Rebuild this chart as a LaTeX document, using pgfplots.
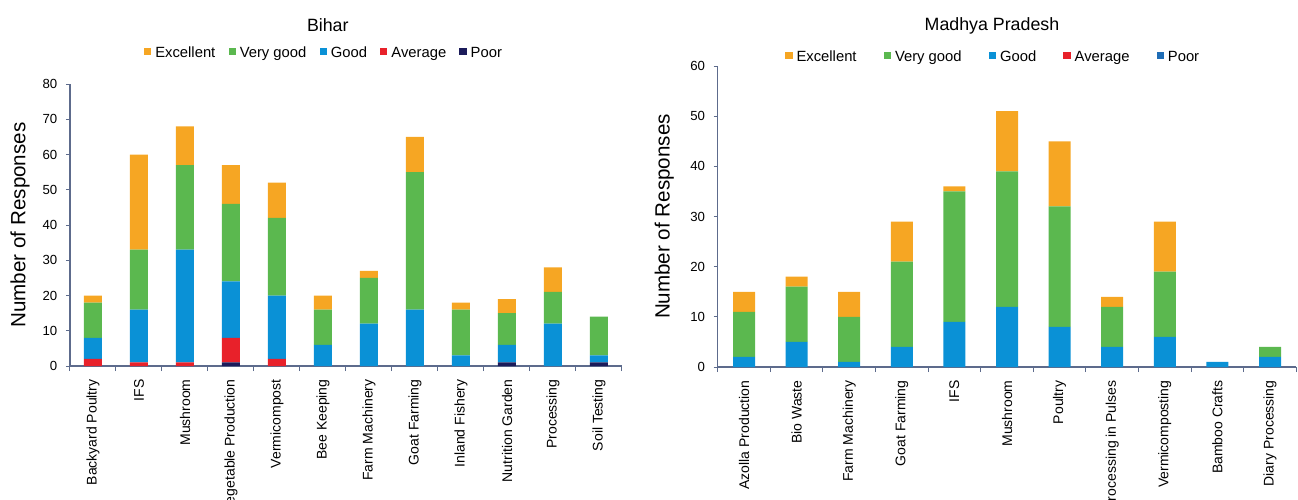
\documentclass[border=0pt]{standalone}
\usepackage{pgfplots}
\usepackage{pgfplotstable}
\pgfplotsset{compat=1.18}
\usepackage{fontspec}
\setmainfont{Liberation Sans}
\definecolor{cExc}{HTML}{F6A623}
\definecolor{cVG}{HTML}{5BB84F}
\definecolor{cGood}{HTML}{0A91D6}
\definecolor{cAvg}{HTML}{E8212A}
\definecolor{cPoor}{HTML}{1B1B5A}
\definecolor{cPoorMP}{HTML}{1F6DB6}
\definecolor{axcol}{HTML}{5D6B8C}

\pgfplotstableread{
x poor avg good vg exc
0 0 2 6 10 2
1 0 1 15 17 27
2 0 1 32 24 11
3 1 7 16 22 11
4 0 2 18 22 10
5 0 0 6 10 4
6 0 0 12 13 2
7 0 0 16 39 10
8 0 0 3 13 2
9 1 0 5 9 4
10 0 0 12 9 7
11 1 0 2 11 0
}\bihar

\pgfplotstableread{
x poor avg good vg exc
0 0 0 2 9 4
1 0 0 5 11 2
2 0 0 1 9 5
3 0 0 4 17 8
4 0 0 9 26 1
5 0 0 12 27 12
6 0 0 8 24 13
7 0 0 4 8 2
8 0 0 6 13 10
9 0 0 1 0 0
10 0 0 2 2 0
}\mp

\pgfplotsset{
  mystack/.style={
    ybar stacked, scale only axis,
    axis lines*=left,
    axis line style={color=axcol, line width=0.6pt},
    ymin=0,
    tick align=outside,
    major tick length=2pt,
    minor tick length=2.6pt,
    tick style={color=axcol, line width=0.5pt},
    major x tick style={draw=none},
    /pgf/number format/assume math mode=true,
    yticklabel style={font=\fontsize{6.6}{7}\selectfont, xshift=-0.8pt},
    xticklabel style={rotate=90, anchor=east, font=\fontsize{7}{8}\selectfont},
    xticklabel shift=1.2pt,
    reverse legend,
    legend columns=5,
    legend cell align=left,
    every axis plot post/.append style={draw=none,
      legend image code/.code={\fill[##1,draw=none] (0pt,-0.6pt) rectangle (3.6pt,3.0pt);}},
    ylabel style={font=\fontsize{10.3}{12}\selectfont, anchor=center},
    title style={font=\fontsize{8.9}{10}\selectfont, anchor=center},
  }
}

\begin{document}
\begin{tikzpicture}
\useasboundingbox (0,0) rectangle (649pt,249.5pt);

\begin{axis}[mystack,
  at={(35pt,66.5pt)}, anchor=south west,
  width=276pt, height=141pt,
  bar width=9pt,
  xmin=-0.5, xmax=11.5, ymax=80,
  ytick={0,10,...,80},
  xtick={0,...,11},
  minor xtick={-0.5,0.5,...,11.5},
  xticklabels={Backyard Poultry,IFS,Mushroom,Vegetable Production,Vermicompost,Bee Keeping,Farm Machinery,Goat Farming,Inland Fishery,Nutrition Garden,Processing,Soil Testing},
  ylabel={Number of Responses},
  ylabel style={at={(axis description cs:-0.0906,0.5)}},
  title={Bihar},
  title style={at={(axis description cs:0.467,1.1666)}},
  legend style={draw=none, fill=none, at={(0.462,1.108)}, anchor=center,
    font=\fontsize{7.4}{8}\selectfont,
    /tikz/every even column/.append style={column sep=4.6pt}},
]
\addplot[fill=cPoor] table[x=x,y=poor]{\bihar};
\addplot[fill=cAvg] table[x=x,y=avg]{\bihar};
\addplot[fill=cGood] table[x=x,y=good]{\bihar};
\addplot[fill=cVG] table[x=x,y=vg]{\bihar};
\addplot[fill=cExc] table[x=x,y=exc]{\bihar};
\legend{Poor,Average,Good,Very good,Excellent}
\end{axis}

\begin{axis}[mystack,
  at={(358.85pt,66pt)}, anchor=south west,
  width=289.3pt, height=150.5pt,
  bar width=11pt,
  xmin=-0.5, xmax=10.5, ymax=60,
  ytick={0,10,...,60},
  xtick={0,...,10},
  minor xtick={-0.5,0.5,...,10.5},
  xticklabels={Azolla Production,Bio Waste,Farm Machinery,Goat Farming,IFS,Mushroom,Poultry,Processing in Pulses,Vermicomposting,Bamboo Crafts,Diary Processing},
  ylabel={Number of Responses},
  ylabel style={at={(axis description cs:-0.0925,0.5)}},
  title={Madhya Pradesh},
  title style={at={(axis description cs:0.474,1.095)}},
  legend style={draw=none, fill=none, at={(0.478,1.027)}, anchor=center,
    font=\fontsize{7.4}{8}\selectfont,
    /tikz/every even column/.append style={column sep=11.6pt}},
]
\addplot[fill=cPoorMP] table[x=x,y=poor]{\mp};
\addplot[fill=cAvg] table[x=x,y=avg]{\mp};
\addplot[fill=cGood] table[x=x,y=good]{\mp};
\addplot[fill=cVG] table[x=x,y=vg]{\mp};
\addplot[fill=cExc] table[x=x,y=exc]{\mp};
\legend{Poor,Average,Good,Very good,Excellent}
\end{axis}
\end{tikzpicture}
\end{document}
